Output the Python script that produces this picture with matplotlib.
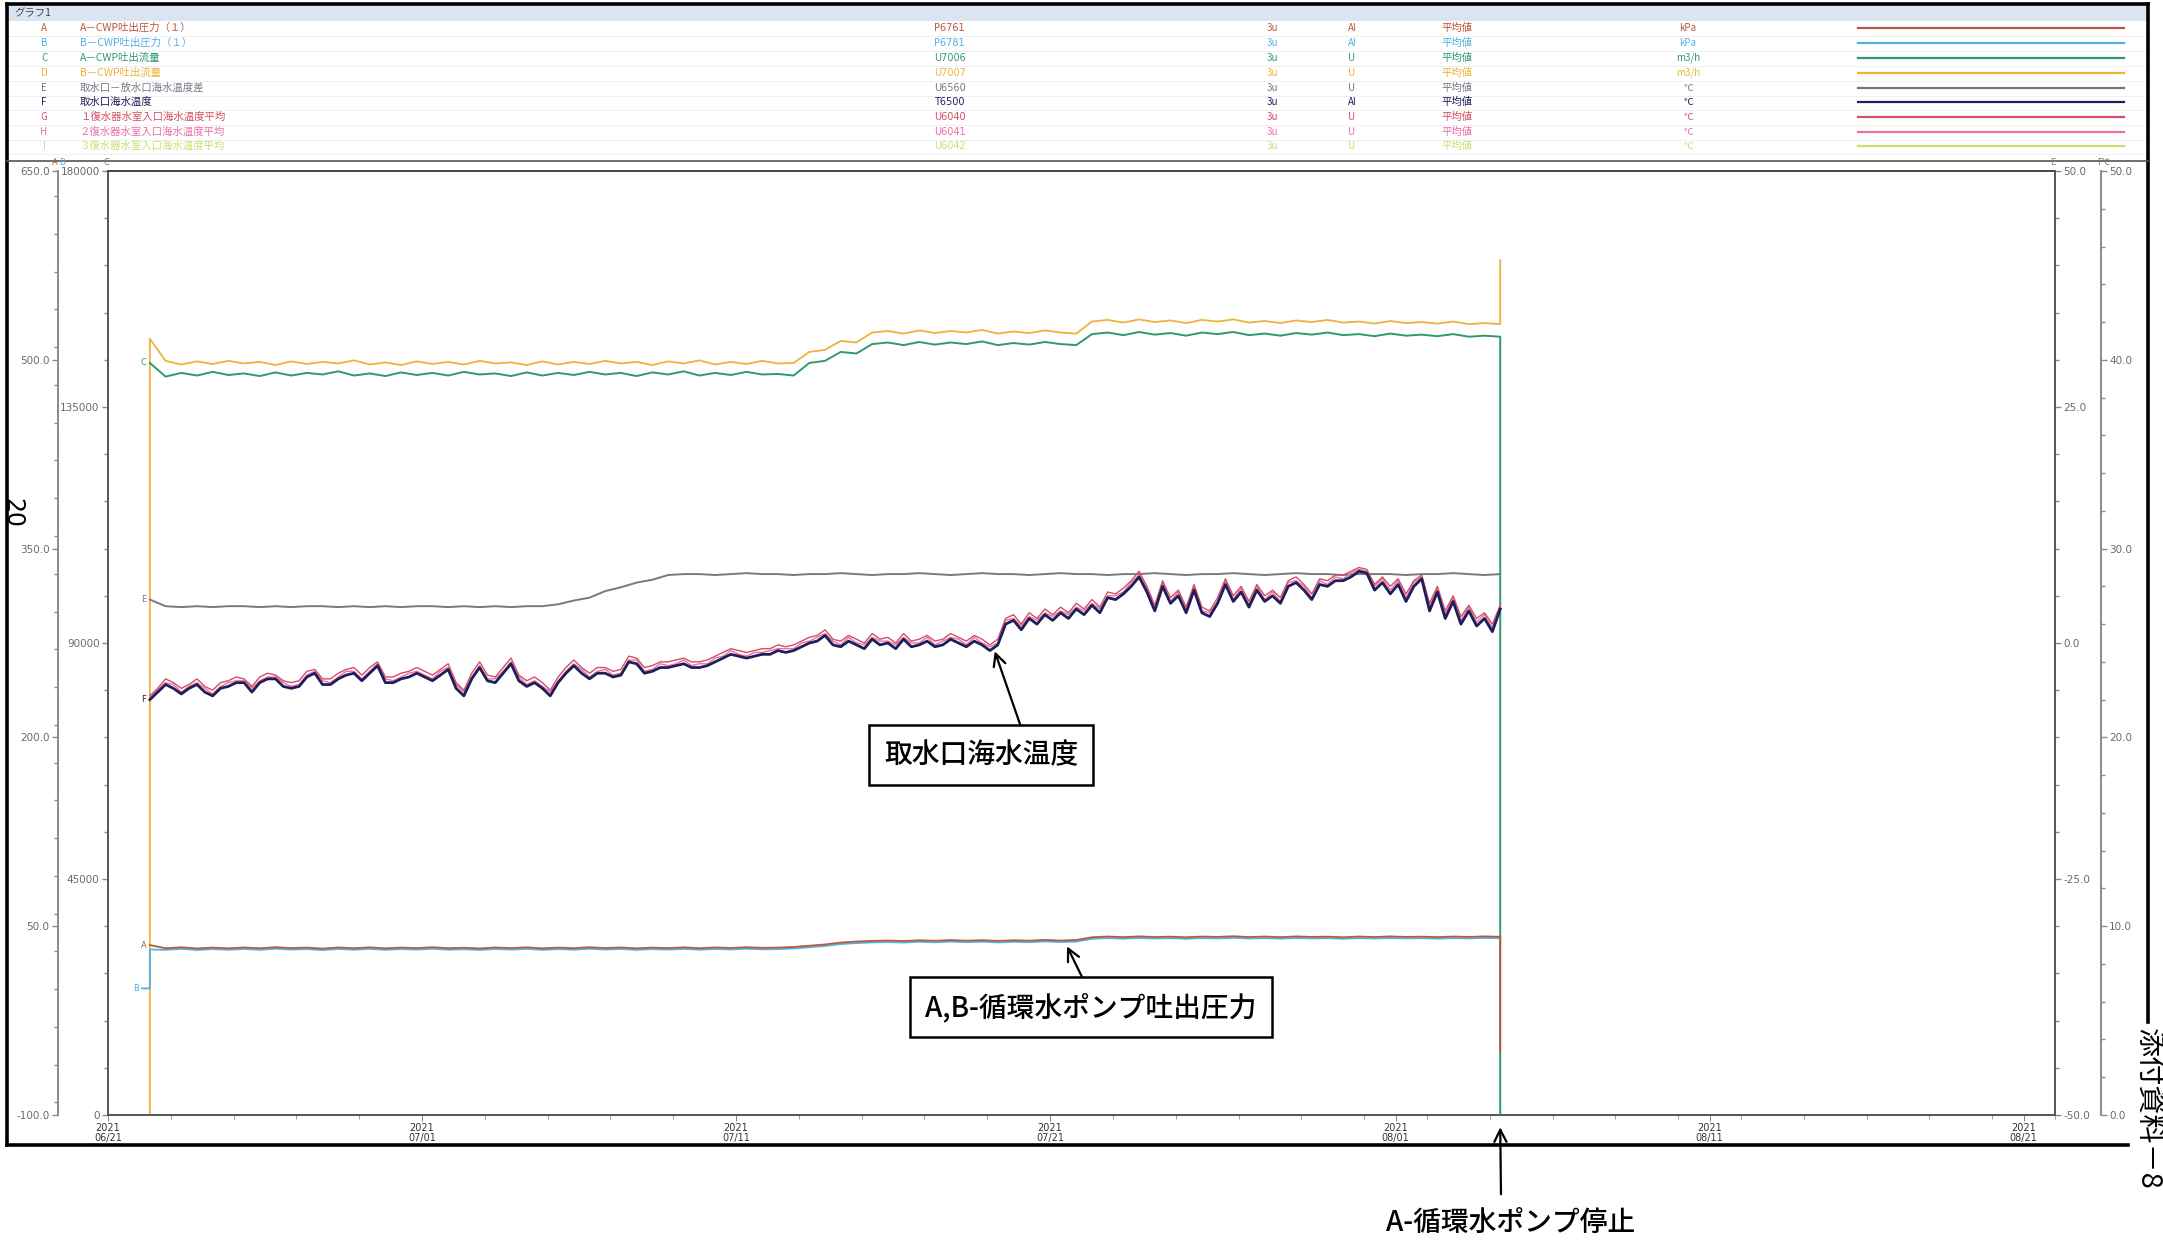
import matplotlib
matplotlib.use("Agg")
import matplotlib.pyplot as plt
import matplotlib.dates as mdates
from matplotlib.ticker import FixedLocator, FormatStrFormatter, MultipleLocator
from matplotlib.lines import Line2D
from matplotlib.patches import Rectangle
import pandas as pd

plt.rcParams['font.family'] = ['Noto Sans CJK JP', 'DejaVu Sans']

# ---------------- data ----------------
x_start = "2021-06-21 00:00"
x_end = "2021-08-22 00:00"
start_time = "2021-06-22 08:00"
pre_time = "2021-06-22 02:00"

# legend table
letters = ["A", "B", "C", "D", "E", "F", "G", "H", "I"]
names = ["A－CWP吐出圧力（１）", "B－CWP吐出圧力（１）", "A－CWP吐出流量", "B－CWP吐出流量",
         "取水口－放水口海水温度差", "取水口海水温度", "１復水器水室入口海水温度平均",
         "２復水器水室入口海水温度平均", "３復水器水室入口海水温度平均"]
tags = ["P6761", "P6781", "U7006", "U7007", "U6560", "T6500", "U6040", "U6041", "U6042"]
periods = ["3u"] * 9
kinds = ["AI", "AI", "U", "U", "U", "AI", "U", "U", "U"]
stats = ["平均値"] * 9
units = ["kPa", "kPa", "m3/h", "m3/h", "℃", "℃", "℃", "℃", "℃"]

# axis ticks
press_ticks = [650.0, 500.0, 350.0, 200.0, 50.0, -100.0]
flow_ticks = [180000, 135000, 90000, 45000, 0]
diff_ticks = [50.0, 25.0, 0.0, -25.0, -50.0]
temp_ticks = [50.0, 40.0, 30.0, 20.0, 10.0, 0.0]

# 12-hourly series
flow_a = [143400, 140800, 141500, 141000, 141700, 141100, 141400, 140900, 141600, 141000,
          141500, 141200, 141800, 141000, 141400, 140900, 141600, 141100, 141500, 141000,
          141700, 141200, 141400, 140900, 141600, 141000, 141500, 141100, 141700, 141200,
          141500, 140900, 141600, 141200, 141800, 141000, 141500, 141100, 141700, 141200,
          141300, 141000, 143400, 143800, 145500, 145200, 147000, 147300, 146800, 147400,
          146900, 147300, 147000, 147500, 146800, 147200, 146900, 147400, 147000, 146800,
          148900, 149200, 148700, 149300, 148800, 149100, 148600, 149200, 148900, 149300,
          148700, 149000, 148600, 149100, 148800, 149200, 148700, 148900, 148500, 149000,
          148600, 148800, 148500, 148900, 148400, 148600, 148400]
flow_a_after = 0

flow_b_before = 0
flow_b = [148000, 143800, 143100, 143700, 143200, 143800, 143300, 143600, 143000, 143700,
          143200, 143600, 143300, 143900, 143100, 143500, 143000, 143700, 143200, 143600,
          143100, 143800, 143300, 143500, 143000, 143700, 143100, 143600, 143200, 143800,
          143300, 143600, 143000, 143700, 143300, 143900, 143100, 143600, 143200, 143800,
          143300, 143400, 145500, 145900, 147600, 147300, 149200, 149500, 149000, 149600,
          149100, 149500, 149200, 149700, 149000, 149400, 149100, 149600, 149200, 149000,
          151300, 151600, 151100, 151700, 151200, 151500, 151000, 151600, 151300, 151700,
          151100, 151400, 151000, 151500, 151200, 151600, 151100, 151300, 150900, 151400,
          151000, 151200, 150900, 151300, 150800, 151000, 150800]
flow_b_after = 163000

press_a = [35.0, 32.5, 33.2, 32.3, 33.0, 32.4, 33.1, 32.5, 33.3, 32.6,
           33.0, 32.2, 33.1, 32.5, 33.2, 32.4, 33.0, 32.6, 33.3, 32.5,
           32.9, 32.3, 33.1, 32.6, 33.2, 32.4, 33.0, 32.5, 33.3, 32.6,
           33.1, 32.4, 33.0, 32.6, 33.2, 32.5, 33.1, 32.7, 33.3, 32.8,
           33.0, 33.5, 34.5, 35.5, 37.0, 37.8, 38.3, 38.6, 38.2, 38.8,
           38.4, 39.0, 38.5, 38.9, 38.3, 38.8, 38.5, 39.1, 38.6, 39.0,
           41.2, 41.8, 41.3, 41.9, 41.4, 41.7, 41.2, 41.8, 41.5, 42.0,
           41.4, 41.8, 41.3, 41.9, 41.5, 41.7, 41.2, 41.8, 41.4, 41.9,
           41.5, 41.7, 41.3, 41.8, 41.5, 41.9, 41.6]
press_a_after = -49.0

press_b_before = 0.6
press_b = [31.5, 31.2, 32.0, 31.1, 31.8, 31.3, 31.9, 31.2, 32.1, 31.4,
           31.8, 31.0, 31.9, 31.3, 32.0, 31.2, 31.8, 31.4, 32.1, 31.3,
           31.7, 31.1, 31.9, 31.4, 32.0, 31.2, 31.8, 31.3, 32.1, 31.4,
           31.9, 31.2, 31.8, 31.4, 32.0, 31.3, 31.9, 31.5, 32.1, 31.6,
           31.8, 32.3, 33.3, 34.3, 35.8, 36.6, 37.1, 37.4, 37.0, 37.6,
           37.2, 37.8, 37.3, 37.7, 37.1, 37.6, 37.3, 37.9, 37.4, 37.8,
           40.0, 40.6, 40.1, 40.7, 40.2, 40.5, 40.0, 40.6, 40.3, 40.8,
           40.2, 40.6, 40.1, 40.7, 40.3, 40.5, 40.0, 40.6, 40.2, 40.7,
           40.3, 40.5, 40.1, 40.6, 40.3, 40.7, 40.5]

temp_diff = [4.6, 3.9, 3.8, 3.9, 3.8, 3.9, 3.9, 3.8, 3.9, 3.8,
             3.9, 3.9, 3.8, 3.9, 3.8, 3.9, 3.8, 3.9, 3.9, 3.8,
             3.9, 3.8, 3.9, 3.8, 3.9, 3.9, 4.1, 4.5, 4.8, 5.5,
             5.9, 6.4, 6.7, 7.2, 7.3, 7.3, 7.2, 7.3, 7.4, 7.3,
             7.3, 7.2, 7.3, 7.3, 7.4, 7.3, 7.2, 7.3, 7.3, 7.4,
             7.3, 7.2, 7.3, 7.4, 7.3, 7.3, 7.2, 7.3, 7.4, 7.3,
             7.3, 7.2, 7.3, 7.3, 7.4, 7.3, 7.2, 7.3, 7.3, 7.4,
             7.3, 7.2, 7.3, 7.4, 7.3, 7.3, 7.2, 7.3, 7.3, 7.3,
             7.2, 7.3, 7.3, 7.4, 7.3, 7.2, 7.3]

# 6-hourly temperatures
temp_intake = [22.0, 22.4, 22.8, 22.6, 22.3, 22.6, 22.8, 22.4, 22.2, 22.6,
               22.7, 22.9, 22.9, 22.4, 22.9, 23.1, 23.1, 22.7, 22.6, 22.7,
               23.2, 23.4, 22.8, 22.8, 23.1, 23.3, 23.4, 23.0, 23.4, 23.8,
               22.9, 22.9, 23.1, 23.2, 23.4, 23.2, 23.0, 23.3, 23.6, 22.6,
               22.2, 23.1, 23.7, 23.0, 22.9, 23.4, 23.9, 23.0, 22.7, 22.9,
               22.6, 22.2, 22.9, 23.4, 23.8, 23.4, 23.1, 23.4, 23.4, 23.2,
               23.3, 24.0, 23.9, 23.4, 23.5, 23.7, 23.7, 23.8, 23.9, 23.7,
               23.7, 23.8, 24.0, 24.2, 24.4, 24.3, 24.2, 24.3, 24.4, 24.4,
               24.6, 24.5, 24.6, 24.8, 25.0, 25.1, 25.4, 24.9, 24.8, 25.1,
               24.9, 24.7, 25.2, 24.9, 25.0, 24.7, 25.2, 24.8, 24.9, 25.1,
               24.8, 24.9, 25.2, 25.0, 24.8, 25.1, 24.9, 24.6, 24.9, 26.0,
               26.2, 25.7, 26.3, 26.0, 26.5, 26.2, 26.6, 26.3, 26.8, 26.5,
               27.0, 26.6, 27.4, 27.3, 27.6, 28.0, 28.5, 27.7, 26.7, 28.0,
               27.1, 27.5, 26.6, 27.8, 26.6, 26.4, 27.1, 28.1, 27.2, 27.7,
               26.9, 27.8, 27.2, 27.5, 27.1, 28.0, 28.2, 27.8, 27.3, 28.1,
               28.0, 28.3, 28.3, 28.5, 28.8, 28.7, 27.8, 28.2, 27.6, 28.1,
               27.2, 28.0, 28.4, 26.7, 27.7, 26.3, 27.2, 26.0, 26.7, 25.9,
               26.3, 25.6, 26.8]

temp_cond1 = [22.2, 22.6, 23.1, 22.9, 22.6, 22.8, 23.1, 22.7, 22.5, 22.9,
              23.0, 23.2, 23.1, 22.7, 23.2, 23.4, 23.3, 23.0, 22.9, 23.0,
              23.5, 23.6, 23.1, 23.1, 23.4, 23.6, 23.7, 23.3, 23.7, 24.0,
              23.2, 23.2, 23.4, 23.5, 23.7, 23.5, 23.3, 23.6, 23.9, 22.9,
              22.5, 23.4, 24.0, 23.3, 23.2, 23.7, 24.2, 23.3, 23.0, 23.2,
              22.9, 22.5, 23.2, 23.7, 24.1, 23.7, 23.4, 23.7, 23.7, 23.5,
              23.6, 24.3, 24.2, 23.7, 23.8, 24.0, 24.0, 24.1, 24.2, 24.0,
              24.0, 24.1, 24.3, 24.5, 24.7, 24.6, 24.5, 24.6, 24.7, 24.7,
              24.9, 24.8, 24.9, 25.1, 25.3, 25.4, 25.7, 25.2, 25.1, 25.4,
              25.2, 25.0, 25.5, 25.2, 25.3, 25.0, 25.5, 25.1, 25.2, 25.4,
              25.1, 25.2, 25.5, 25.3, 25.1, 25.4, 25.2, 24.9, 25.2, 26.3,
              26.5, 26.0, 26.6, 26.3, 26.8, 26.5, 26.9, 26.6, 27.1, 26.8,
              27.3, 26.9, 27.7, 27.6, 27.9, 28.3, 28.8, 28.0, 27.0, 28.3,
              27.4, 27.8, 26.9, 28.1, 26.9, 26.7, 27.4, 28.4, 27.5, 28.0,
              27.2, 28.1, 27.5, 27.8, 27.4, 28.3, 28.5, 28.1, 27.6, 28.4,
              28.3, 28.6, 28.6, 28.8, 29.0, 28.9, 28.1, 28.5, 28.0, 28.4,
              27.6, 28.3, 28.6, 27.1, 28.0, 26.7, 27.5, 26.4, 27.0, 26.3,
              26.6, 26.0, 27.0]

temp_cond2 = [22.1, 22.5, 22.9, 22.8, 22.4, 22.7, 22.9, 22.6, 22.3, 22.7,
              22.9, 23.0, 23.0, 22.6, 23.0, 23.2, 23.2, 22.9, 22.7, 22.8,
              23.3, 23.5, 23.0, 22.9, 23.2, 23.5, 23.5, 23.1, 23.5, 23.9,
              23.1, 23.0, 23.2, 23.4, 23.5, 23.3, 23.1, 23.5, 23.7, 22.8,
              22.4, 23.2, 23.8, 23.1, 23.1, 23.5, 24.0, 23.2, 22.8, 23.0,
              22.7, 22.4, 23.0, 23.5, 23.9, 23.6, 23.2, 23.5, 23.6, 23.3,
              23.4, 24.1, 24.1, 23.5, 23.6, 23.9, 23.8, 23.9, 24.1, 23.8,
              23.9, 23.9, 24.2, 24.3, 24.6, 24.4, 24.3, 24.5, 24.5, 24.6,
              24.7, 24.7, 24.7, 25.0, 25.1, 25.3, 25.5, 25.1, 24.9, 25.3,
              25.0, 24.9, 25.3, 25.1, 25.1, 24.9, 25.3, 25.0, 25.0, 25.3,
              24.9, 25.1, 25.3, 25.2, 24.9, 25.3, 25.0, 24.8, 25.0, 26.2,
              26.3, 25.9, 26.4, 26.2, 26.6, 26.4, 26.7, 26.5, 26.9, 26.7,
              27.1, 26.8, 27.5, 27.5, 27.7, 28.2, 28.6, 27.9, 26.8, 28.2,
              27.2, 27.7, 26.7, 28.0, 26.7, 26.6, 27.2, 28.3, 27.3, 27.9,
              27.0, 28.0, 27.3, 27.7, 27.2, 28.2, 28.3, 28.0, 27.4, 28.3,
              28.1, 28.5, 28.4, 28.7, 28.9, 28.8, 28.0, 28.4, 27.8, 28.3,
              27.4, 28.2, 28.5, 26.9, 27.9, 26.5, 27.4, 26.2, 26.9, 26.1,
              26.5, 25.8, 26.9]

# annotation targets (data coords)
temp_note_time, temp_note_value = "2021-07-19 05:00", 24.7
press_note_time, press_note_value = "2021-07-21 12:00", 36.0

# ---------------- styles ----------------
W_PX, H_PX = 2163, 1240
c_pa = "#b9573f"
c_pb = "#52b0e2"
c_fa = "#2f9a6c"
c_fb = "#f0b23a"
c_diff = "#7d7488"
c_intake = "#1e1e5a"
c_c1 = "#d24f66"
c_c2 = "#ec6ea4"
c_c3 = "#c9df72"
colors = [c_pa, c_pb, c_fa, c_fb, c_diff, c_intake, c_c1, c_c2, c_c3]

times12 = pd.date_range(start_time, periods=len(flow_a), freq="12h")
times6 = pd.date_range(start_time, periods=len(temp_intake), freq="6h")
stop_time = times12[-1]

fig = plt.figure(figsize=(W_PX / 100, H_PX / 100), dpi=100)


def fx(px):
    return px / W_PX


def fy(py):
    return 1 - py / H_PX


L, R, T, B = 108, 2055, 171, 1115
ax = fig.add_axes([fx(L), fy(B), fx(R - L), (B - T) / H_PX])
ax_p = ax.twinx()
ax_e = ax.twinx()
ax_t = ax.twinx()

axis_col = "#8a8a8a"
lab_col = "#6a6a6a"
for a in (ax, ax_p, ax_e, ax_t):
    for s in a.spines.values():
        s.set_visible(False)

ax.spines["left"].set_visible(True)
ax.spines["bottom"].set_visible(True)
ax.spines["top"].set_visible(True)
ax.spines["left"].set_color("#555555")
ax.spines["bottom"].set_color("#555555")
ax.spines["top"].set_color("#444444")
ax.spines["top"].set_linewidth(1.4)
ax.spines["left"].set_linewidth(1.4)
ax.spines["bottom"].set_linewidth(1.4)

# pressure axis (outer left)
ax_p.yaxis.set_ticks_position("left")
ax_p.yaxis.set_label_position("left")
ax_p.spines["left"].set_visible(True)
ax_p.spines["left"].set_position(("outward", 36))
ax_p.spines["left"].set_color(axis_col)
ax_p.spines["left"].set_linewidth(1.4)
ax_p.set_ylim(-100, 650)
ax_p.yaxis.set_major_locator(FixedLocator(press_ticks))
ax_p.yaxis.set_minor_locator(MultipleLocator(30))
ax_p.yaxis.set_major_formatter(FormatStrFormatter("%.1f"))

# flow axis (inner left)
ax.set_ylim(0, 180000)
ax.yaxis.set_major_locator(FixedLocator(flow_ticks))
ax.yaxis.set_minor_locator(MultipleLocator(9000))
ax.yaxis.set_major_formatter(FormatStrFormatter("%d"))

# temperature difference axis (inner right)
ax_e.spines["right"].set_visible(True)
ax_e.spines["right"].set_color("#555555")
ax_e.spines["right"].set_linewidth(1.4)
ax_e.set_ylim(-50, 50)
ax_e.yaxis.set_major_locator(FixedLocator(diff_ticks))
ax_e.yaxis.set_minor_locator(MultipleLocator(5))
ax_e.yaxis.set_major_formatter(FormatStrFormatter("%.1f"))

# temperature axis (outer right)
ax_t.spines["right"].set_visible(True)
ax_t.spines["right"].set_position(("outward", 33))
ax_t.spines["right"].set_color(axis_col)
ax_t.spines["right"].set_linewidth(1.4)
ax_t.set_ylim(0, 50)
ax_t.yaxis.set_major_locator(FixedLocator(temp_ticks))
ax_t.yaxis.set_minor_locator(MultipleLocator(2))
ax_t.yaxis.set_major_formatter(FormatStrFormatter("%.1f"))

for a in (ax, ax_p, ax_e, ax_t):
    a.tick_params(axis="y", which="major", direction="out", length=4, width=1,
                  colors=axis_col, labelcolor=lab_col, labelsize=7.5, pad=2)
    a.tick_params(axis="y", which="minor", direction="out", length=3, width=1, colors=axis_col)
    for lbl in a.get_yticklabels():
        lbl.set_family("DejaVu Sans")

# x axis
ax.set_xlim(pd.Timestamp(x_start), pd.Timestamp(x_end))
ax.xaxis.set_major_locator(mdates.DayLocator(bymonthday=[1, 11, 21]))
ax.xaxis.set_minor_locator(mdates.DayLocator(interval=2))
ax.xaxis.set_major_formatter(mdates.DateFormatter("%Y\n%m/%d"))
ax.tick_params(axis="x", which="major", direction="out", length=4, colors=axis_col,
               labelcolor="#333333", labelsize=7, pad=2)
ax.tick_params(axis="x", which="minor", direction="out", length=3, colors=axis_col)
for lbl in ax.get_xticklabels():
    lbl.set_family("DejaVu Sans")
    lbl.set_linespacing(0.9)

# ---------------- series ----------------
ax.plot(list(times12) + [stop_time], flow_a + [flow_a_after], color=c_fa, lw=1.4, zorder=3)
ax.plot([times12[0]] + list(times12) + [stop_time], [flow_b_before] + flow_b + [flow_b_after],
        color=c_fb, lw=1.3, zorder=2)

ax_e.plot(times12, temp_diff, color=c_diff, lw=1.4)

ax_t.plot(times6, temp_cond2, color=c_c2, lw=1.0)
ax_t.plot(times6, temp_cond1, color=c_c1, lw=1.0)
ax_t.plot(times6, temp_intake, color=c_intake, lw=2.0)

ax_p.plot([pd.Timestamp(pre_time), times12[0]] + list(times12),
          [press_b_before, press_b_before] + press_b, color=c_pb, lw=1.3)
ax_p.plot(list(times12) + [stop_time], press_a + [press_a_after], color=c_pa, lw=1.3)

# small series letters at the start of each trace
lbl_kw = dict(fontsize=6, ha="right", va="center", family="DejaVu Sans")
ax.text(times12[0], flow_a[0], "C ", color=c_fa, **lbl_kw)
ax_e.text(times12[0], temp_diff[0], "E ", color=c_diff, **lbl_kw)
ax_t.text(times6[0], temp_intake[0], "F ", color=c_intake, **lbl_kw)
ax_p.text(times12[0], press_a[0], "A ", color=c_pa, **lbl_kw)
ax_p.text(pd.Timestamp(pre_time), press_b_before, "B ", color=c_pb, **lbl_kw)

# axis header letters
hdr_kw = dict(fontsize=6, ha="center", va="bottom", family="DejaVu Sans")
fig.text(fx(55), fy(167), "A", color=c_pa, **hdr_kw)
fig.text(fx(62), fy(167), "B", color=c_pb, **hdr_kw)
fig.text(fx(106), fy(167), "C", color=c_fa, **hdr_kw)
fig.text(fx(2053), fy(167), "E", color=c_diff, **hdr_kw)
fig.text(fx(2104), fy(167), "F℃", color=lab_col, fontsize=6, ha="center", va="bottom")

# ---------------- annotations ----------------
box = dict(boxstyle="square,pad=0.55", fc="white", ec="black", lw=1.8)
fig.text(fx(981), fy(755), "取水口海水温度", fontsize=20, ha="center", va="center",
         color="black", bbox=box, weight="medium")
fig.text(fx(1091), fy(1007), "A,B-循環水ポンプ吐出圧力", fontsize=20, ha="center",
         va="center", color="black", bbox=box, weight="medium")
fig.text(fx(1511), fy(1222), "A-循環水ポンプ停止", fontsize=20, ha="center", va="center",
         color="black", weight="medium")

arr = dict(arrowstyle="->", color="black", lw=1.6, mutation_scale=22)
ax_t.annotate("", xy=(pd.Timestamp(temp_note_time), temp_note_value),
              xytext=(1021, H_PX - 727), textcoords="figure pixels", arrowprops=arr)
ax_p.annotate("", xy=(pd.Timestamp(press_note_time), press_note_value),
              xytext=(1083, H_PX - 979), textcoords="figure pixels", arrowprops=arr)
ax.annotate("", xy=(stop_time, -0.01), xycoords=("data", "axes fraction"),
            xytext=(1501, H_PX - 1197), textcoords="figure pixels", arrowprops=arr,
            annotation_clip=False)

# ---------------- legend table ----------------
fig.patches.append(Rectangle((fx(8), fy(21)), fx(2138), 16 / H_PX, transform=fig.transFigure,
                             facecolor="#dbe5f1", edgecolor="none", zorder=0))
fig.text(fx(14), fy(13), "グラフ1", fontsize=7.5, color="#444444", ha="left", va="center")
row_y = [28, 43, 58, 73, 88, 102, 117, 132, 146]
for i in range(len(letters)):
    y = fy(row_y[i])
    col = colors[i]
    fig.text(fx(44), y, letters[i], color=col, fontsize=7, ha="center", va="center")
    fig.text(fx(80), y, names[i], color=col, fontsize=7.5, ha="left", va="center")
    fig.text(fx(934), y, tags[i], color=col, fontsize=7, ha="left", va="center",
             family="DejaVu Sans")
    fig.text(fx(1272), y, periods[i], color=col, fontsize=7, ha="center", va="center")
    fig.text(fx(1352), y, kinds[i], color=col, fontsize=7, ha="center", va="center")
    fig.text(fx(1457), y, stats[i], color=col, fontsize=7.5, ha="center", va="center")
    fig.text(fx(1688), y, units[i], color=col, fontsize=7, ha="center", va="center")
    fig.lines.append(Line2D([fx(1858), fx(2124)], [y, y], color=col, lw=1.6,
                            transform=fig.transFigure))
    fig.lines.append(Line2D([fx(8), fx(2146)], [fy(row_y[i] + 7.5)] * 2, color="#eeeeee",
                            lw=0.6, transform=fig.transFigure, zorder=0))

# ---------------- page frame & page text ----------------
frame_kw = dict(color="black", lw=2.6, transform=fig.transFigure)
fig.lines.append(Line2D([fx(7), fx(7)], [fy(4), fy(1145)], **frame_kw))
fig.lines.append(Line2D([fx(7), fx(2148)], [fy(4), fy(4)], **frame_kw))
fig.lines.append(Line2D([fx(7), fx(2128)], [fy(1145), fy(1145)], **frame_kw))
fig.lines.append(Line2D([fx(2148), fx(2148)], [fy(4), fy(1022)], **frame_kw))
fig.lines.append(Line2D([fx(7), fx(2148)], [fy(161), fy(161)], color="#555555", lw=1.2,
                        transform=fig.transFigure))

fig.text(fx(12), fy(513), "20", fontsize=17, rotation=-90, ha="center", va="center",
         color="black", family="DejaVu Sans")
fig.text(fx(2147), fy(1028), "添付資料－8", fontsize=21, rotation=-90, ha="center", va="top",
         color="black")

fig.savefig("out.png", dpi=100, facecolor="white")
